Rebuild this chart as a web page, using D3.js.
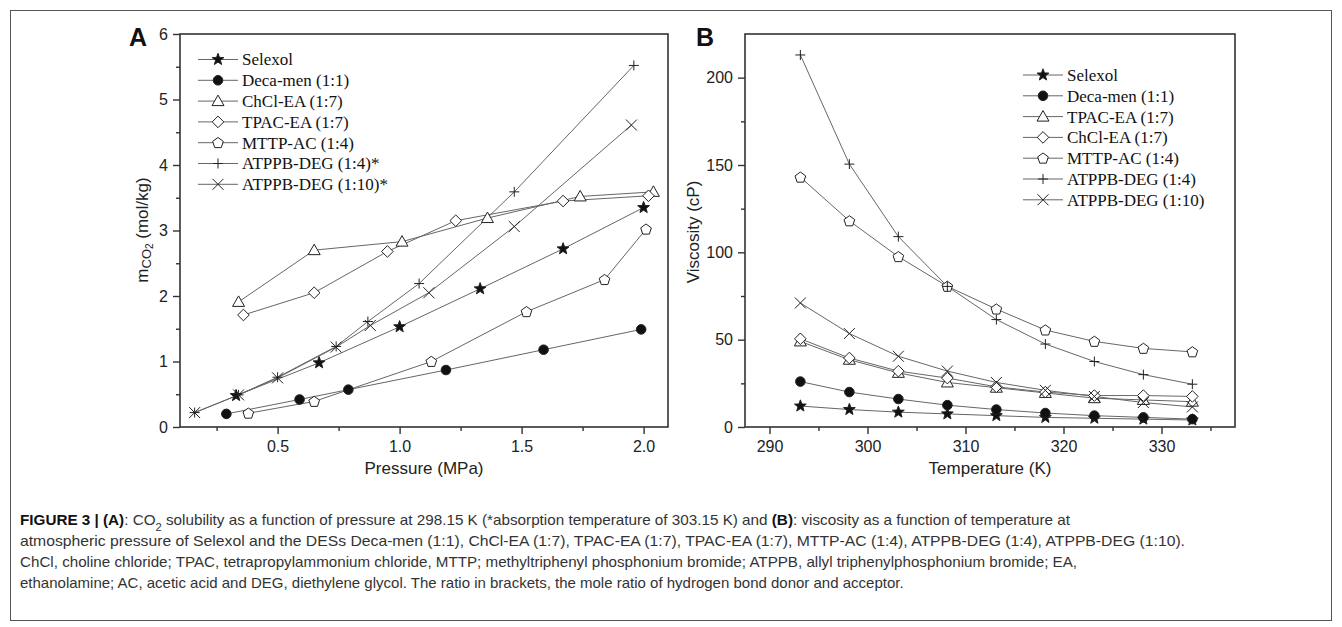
<!DOCTYPE html>
<html>
<head>
<meta charset="utf-8">
<script src="https://cdn.jsdelivr.net/npm/d3@7"></script>
<style>
  body { margin: 0; background: #fff; }
  svg { display: block; }
</style>
</head>
<body>
<div id="chart"></div>
<script>

// ---- Panel A: CO2 solubility vs pressure ----
var selexolP = [0.33, 0.67, 1.00, 1.33, 1.67, 2.00];
var selexolM = [0.48, 0.98, 1.53, 2.11, 2.72, 3.35];
var decaP = [0.29, 0.59, 0.79, 1.19, 1.59, 1.99];
var decaM = [0.20, 0.42, 0.57, 0.87, 1.18, 1.49];
var chclP = [0.34, 0.65, 1.01, 1.36, 1.74, 2.04];
var chclM = [1.91, 2.70, 2.83, 3.19, 3.52, 3.59];
var tpacP = [0.36, 0.65, 0.95, 1.23, 1.67, 2.02];
var tpacM = [1.71, 2.05, 2.68, 3.15, 3.45, 3.53];
var mttpP = [0.38, 0.65, 1.13, 1.52, 1.84, 2.01];
var mttpM = [0.21, 0.39, 1.00, 1.76, 2.25, 3.02];
var atppb4P = [0.16, 0.34, 0.50, 0.74, 0.87, 1.08, 1.47, 1.96];
var atppb4M = [0.22, 0.49, 0.76, 1.23, 1.61, 2.19, 3.59, 5.52];
var atppb10P = [0.16, 0.34, 0.50, 0.74, 0.88, 1.12, 1.47, 1.95];
var atppb10M = [0.22, 0.49, 0.75, 1.22, 1.55, 2.05, 3.06, 4.61];

// ---- Panel B: viscosity vs temperature ----
var temps = [293.15, 298.15, 303.15, 308.15, 313.15, 318.15, 323.15, 328.15, 333.15];
var viscSelexol = [12, 10, 8.5, 7.5, 6.5, 5.5, 5, 4.5, 4];
var viscDeca = [26, 20, 16, 12.5, 10, 8, 6.5, 5.5, 4.5];
var viscTpac = [49, 38.5, 31, 25.5, 22.5, 19.5, 16.5, 15.5, 14.5];
var viscChcl = [50.5, 39.5, 32, 28, 23, 20, 18, 18, 17.5];
var viscMttp = [143, 118, 97.5, 80.5, 67.5, 55.5, 49, 45, 43];
var viscAtppb4 = [213, 150.5, 109, 80.5, 61.5, 47.5, 37.5, 30, 24.5];
var viscAtppb10 = [71, 53.5, 40.5, 32, 25.5, 21, 17.5, 14, 11.5];

// tick values
var aXMajor = [0.5, 1.0, 1.5, 2.0], aXMinor = [0.25, 0.75, 1.25, 1.75];
var aYMajor = [0, 1, 2, 3, 4, 5, 6], aYMinor = [0.5, 1.5, 2.5, 3.5, 4.5, 5.5];
var bXMajor = [290, 300, 310, 320, 330], bXMinor = [295, 305, 315, 325, 335];
var bYMajor = [0, 50, 100, 150, 200], bYMinor = [25, 75, 125, 175];

var seriesA = [
  { name: "Selexol", shape: "star", x: selexolP, y: selexolM },
  { name: "Deca-men (1:1)", shape: "circle", x: decaP, y: decaM },
  { name: "ChCl-EA (1:7)", shape: "triangle", x: chclP, y: chclM },
  { name: "TPAC-EA (1:7)", shape: "diamond", x: tpacP, y: tpacM },
  { name: "MTTP-AC (1:4)", shape: "pentagon", x: mttpP, y: mttpM },
  { name: "ATPPB-DEG (1:4)*", shape: "plus", x: atppb4P, y: atppb4M },
  { name: "ATPPB-DEG (1:10)*", shape: "cross", x: atppb10P, y: atppb10M }
];

var seriesB = [
  { name: "Selexol", shape: "star", x: temps, y: viscSelexol },
  { name: "Deca-men (1:1)", shape: "circle", x: temps, y: viscDeca },
  { name: "TPAC-EA (1:7)", shape: "triangle", x: temps, y: viscTpac },
  { name: "ChCl-EA (1:7)", shape: "diamond", x: temps, y: viscChcl },
  { name: "MTTP-AC (1:4)", shape: "pentagon", x: temps, y: viscMttp },
  { name: "ATPPB-DEG (1:4)", shape: "plus", x: temps, y: viscAtppb4 },
  { name: "ATPPB-DEG (1:10)", shape: "cross", x: temps, y: viscAtppb10 }
];

var W = 1342, H = 627;
var sansFont = "'Liberation Sans', Arial, Helvetica, sans-serif";
var serifFont = "'Liberation Serif', 'Times New Roman', serif";

var svg = d3.select("#chart").append("svg")
  .attr("width", W)
  .attr("height", H);

// figure frame
svg.append("rect")
  .attr("x", 10.5).attr("y", 10.5)
  .attr("width", 1321).attr("height", 610)
  .attr("fill", "none")
  .attr("stroke", "#555")
  .attr("stroke-width", 1);

// marker path builder
function markerPath(shape) {
  var p = [];
  if (shape == "star") {
    for (var i = 0; i < 10; i++) {
      var r = i % 2 == 0 ? 6.2 : 2.6;
      var a = -Math.PI / 2 + i * Math.PI / 5;
      p.push([r * Math.cos(a), r * Math.sin(a)]);
    }
    return "M" + p.map(function (d) { return d[0].toFixed(2) + "," + d[1].toFixed(2); }).join("L") + "Z";
  }
  if (shape == "circle") {
    return "M4.8,0A4.8,4.8 0 1,1 -4.8,0A4.8,4.8 0 1,1 4.8,0Z";
  }
  if (shape == "triangle") {
    return "M0,-6L6,4.5L-6,4.5Z";
  }
  if (shape == "diamond") {
    return "M0,-5.8L5.8,0L0,5.8L-5.8,0Z";
  }
  if (shape == "pentagon") {
    for (var k = 0; k < 5; k++) {
      var b = -Math.PI / 2 + k * 2 * Math.PI / 5;
      p.push([5.6 * Math.cos(b), 5.6 * Math.sin(b) + 0.4]);
    }
    return "M" + p.map(function (d) { return d[0].toFixed(2) + "," + d[1].toFixed(2); }).join("L") + "Z";
  }
  if (shape == "plus") {
    return "M-5,0H5M0,-5V5";
  }
  // cross
  return "M-5.5,-5.5L5.5,5.5M5.5,-5.5L-5.5,5.5";
}

function markerFill(shape) {
  if (shape == "star" || shape == "circle") return "#111";
  if (shape == "plus" || shape == "cross") return "none";
  return "#fff";
}

function drawPanel(opt) {
  var x = d3.scaleLinear().domain(opt.xDomain).range([opt.left, opt.right]);
  var y = d3.scaleLinear().domain(opt.yDomain).range([opt.bottom, opt.top]);
  var g = svg.append("g");

  // series lines
  var line = d3.line()
    .x(function (d) { return x(d[0]); })
    .y(function (d) { return y(d[1]); });

  opt.series.forEach(function (s) {
    var pts = s.x.map(function (v, i) { return [v, s.y[i]]; });
    g.append("path")
      .attr("d", line(pts))
      .attr("fill", "none")
      .attr("stroke", "#666")
      .attr("stroke-width", 1);
  });

  // markers
  opt.series.forEach(function (s) {
    var pts = s.x.map(function (v, i) { return [v, s.y[i]]; });
    g.selectAll(null)
      .data(pts).enter()
      .append("path")
      .attr("transform", function (d) { return "translate(" + x(d[0]) + "," + y(d[1]) + ")"; })
      .attr("d", markerPath(s.shape))
      .attr("fill", markerFill(s.shape))
      .attr("stroke", "#222")
      .attr("stroke-width", 1);
  });

  // plot box
  g.append("rect")
    .attr("x", opt.left).attr("y", opt.top)
    .attr("width", opt.right - opt.left)
    .attr("height", opt.bottom - opt.top)
    .attr("fill", "none")
    .attr("stroke", "#333")
    .attr("stroke-width", 1.6);

  // minor ticks
  g.append("g")
    .attr("transform", "translate(0," + opt.bottom + ")")
    .call(d3.axisBottom(x).tickValues(opt.xMinor).tickSize(4).tickFormat(""))
    .call(function (a) { a.select(".domain").remove(); });
  g.append("g")
    .attr("transform", "translate(" + opt.left + ",0)")
    .call(d3.axisLeft(y).tickValues(opt.yMinor).tickSize(4).tickFormat(""))
    .call(function (a) { a.select(".domain").remove(); });

  // major ticks + labels
  var xa = g.append("g")
    .attr("transform", "translate(0," + opt.bottom + ")")
    .call(d3.axisBottom(x).tickValues(opt.xMajor).tickSize(7).tickPadding(7).tickSizeOuter(0).tickFormat(opt.xFormat));
  var ya = g.append("g")
    .attr("transform", "translate(" + opt.left + ",0)")
    .call(d3.axisLeft(y).tickValues(opt.yMajor).tickSize(7).tickPadding(5).tickSizeOuter(0).tickFormat(d3.format("d")));

  [xa, ya].forEach(function (a) {
    a.select(".domain").remove();
    a.selectAll("text")
      .style("font-family", sansFont)
      .style("font-size", "16px")
      .attr("fill", "#222");
  });
  g.selectAll(".tick line").attr("stroke", "#333").attr("stroke-width", 1.4);

  // x title
  g.append("text")
    .attr("x", (opt.left + opt.right) / 2)
    .attr("y", 474)
    .attr("text-anchor", "middle")
    .style("font-family", sansFont)
    .style("font-size", "17px")
    .attr("fill", "#222")
    .text(opt.xTitle);

  // panel letter
  g.append("text")
    .attr("x", opt.letterX)
    .attr("y", 46)
    .style("font-family", sansFont)
    .style("font-size", "25px")
    .style("font-weight", "bold")
    .attr("fill", "#111")
    .text(opt.letter);

  // legend
  var leg = g.append("g");
  opt.series.forEach(function (s, i) {
    var ly = opt.legY + i * 20.8;
    leg.append("line")
      .attr("x1", opt.legX).attr("x2", opt.legX + 40)
      .attr("y1", ly).attr("y2", ly)
      .attr("stroke", "#666")
      .attr("stroke-width", 1);
    leg.append("path")
      .attr("transform", "translate(" + (opt.legX + 20) + "," + ly + ")")
      .attr("d", markerPath(s.shape))
      .attr("fill", markerFill(s.shape))
      .attr("stroke", "#222")
      .attr("stroke-width", 1);
    leg.append("text")
      .attr("x", opt.legX + 44)
      .attr("y", ly)
      .attr("dy", "0.35em")
      .style("font-family", serifFont)
      .style("font-size", "17px")
      .attr("fill", "#111")
      .text(s.name);
  });

  return g;
}

var gA = drawPanel({
  left: 180, right: 668, top: 34, bottom: 427,
  xDomain: [0.1, 2.1], yDomain: [0, 6],
  xMajor: aXMajor, xMinor: aXMinor, yMajor: aYMajor, yMinor: aYMinor,
  xFormat: d3.format(".1f"),
  xTitle: "Pressure (MPa)",
  letter: "A", letterX: 129,
  series: seriesA,
  legX: 198, legY: 59.5
});

var gB = drawPanel({
  left: 745, right: 1235, top: 34, bottom: 427,
  xDomain: [287.5, 337.5], yDomain: [0, 225],
  xMajor: bXMajor, xMinor: bXMinor, yMajor: bYMajor, yMinor: bYMinor,
  xFormat: d3.format("d"),
  xTitle: "Temperature (K)",
  letter: "B", letterX: 696,
  series: seriesB,
  legX: 1023, legY: 75
});

// y titles
var yTitleA = svg.append("text")
  .attr("transform", "translate(148,230) rotate(-90)")
  .attr("text-anchor", "middle")
  .style("font-family", sansFont)
  .style("font-size", "17px")
  .attr("fill", "#222");
yTitleA.append("tspan").text("m");
yTitleA.append("tspan").attr("baseline-shift", "-25%").style("font-size", "13px").text("CO");
yTitleA.append("tspan").attr("baseline-shift", "-45%").style("font-size", "10px").text("2");
yTitleA.append("tspan").text(" (mol/kg)");

svg.append("text")
  .attr("transform", "translate(699,232) rotate(-90)")
  .attr("text-anchor", "middle")
  .style("font-family", sansFont)
  .style("font-size", "17px")
  .attr("fill", "#222")
  .text("Viscosity (cP)");

// caption
var captionLines = [
  [["b", "FIGURE 3 | (A)"], ["n", ": CO"], ["s", "2"], ["n", " solubility as a function of pressure at 298.15 K (*absorption temperature of 303.15 K) and "], ["b", "(B)"], ["n", ": viscosity as a function of temperature at"]],
  [["n", "atmospheric pressure of Selexol and the DESs Deca-men (1:1), ChCl-EA (1:7), TPAC-EA (1:7), TPAC-EA (1:7), MTTP-AC (1:4), ATPPB-DEG (1:4), ATPPB-DEG (1:10)."]],
  [["n", "ChCl, choline chloride; TPAC, tetrapropylammonium chloride, MTTP; methyltriphenyl phosphonium bromide; ATPPB, allyl triphenylphosphonium bromide; EA,"]],
  [["n", "ethanolamine; AC, acetic acid and DEG, diethylene glycol. The ratio in brackets, the mole ratio of hydrogen bond donor and acceptor."]]
];
var captionWidths = [1050, 1165, 1057, 0];

captionLines.forEach(function (parts, i) {
  var t = svg.append("text")
    .attr("x", 20)
    .attr("y", 525 + i * 21)
    .style("font-family", sansFont)
    .style("font-size", "15px")
    .attr("fill", "#333");
  if (captionWidths[i]) {
    t.attr("textLength", captionWidths[i]).attr("lengthAdjust", "spacingAndGlyphs");
  }
  parts.forEach(function (p) {
    var ts = t.append("tspan").text(p[1]);
    if (p[0] == "b") ts.style("font-weight", "bold").attr("fill", "#111");
    if (p[0] == "s") ts.attr("baseline-shift", "sub").style("font-size", "11px");
  });
});

</script>
</body>
</html>
